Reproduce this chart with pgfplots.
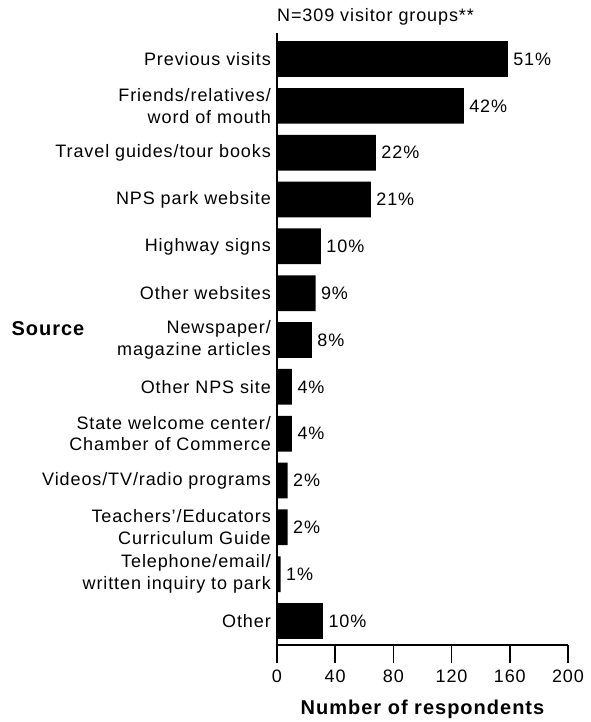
\documentclass[border=0pt]{standalone}
\usepackage{pgfplots}
\pgfplotsset{compat=1.18}
\usepackage{pgfplotstable}
\usepackage{fontspec}
\setmainfont{Liberation Sans}[LetterSpace=5]
\newcommand\mainsz{\fontsize{18}{21.7}\selectfont}
\newcommand\boldsz{\fontsize{20}{23}\selectfont\bfseries}

\pgfplotstableread{
idx val pct
0 158.6 51
1 128.4 42
2 68 22
3 64.5 21
4 30.2 10
5 26.5 9
6 24 8
7 10.3 4
8 10.3 4
9 7.3 2
10 7.3 2
11 2.5 1
12 31.6 10
}\data

\begin{document}
\begin{tikzpicture}
\path[use as bounding box] (-277pt,-77pt) rectangle (313pt,645pt);
\begin{axis}[
  scale only axis,
  width=291pt, height=612pt,
  xbar, bar width=0.763,
  xmin=0, xmax=200,
  ymin=-0.556, ymax=12.513,
  y dir=reverse,
  axis x line=bottom, axis y line=left,
  axis line style={-, line width=1.5pt},
  xtick={0,40,80,120,160,200},
  ytick={0,...,12},
  yticklabels={
    Previous visits,
    {Friends/relatives/\\word of mouth},
    Travel guides/tour books,
    NPS park website,
    Highway signs,
    Other websites,
    {Newspaper/\\magazine articles},
    Other NPS site,
    {State welcome center/\\Chamber of Commerce},
    Videos/TV/radio programs,
    {Teachers'/Educators\\Curriculum Guide},
    {Telephone/email/\\written inquiry to park},
    Other},
  yticklabel style={align=right, font=\mainsz, inner xsep=6pt},
  xticklabel style={font=\mainsz, yshift=-3pt},
  /pgf/number format/assume math mode=true,
  y tick style={draw=none},
  x tick style={line width=1.5pt, black},
  xtick align=outside, ytick align=inside,
  major tick length=18pt,
  xlabel={Number of respondents},
  xlabel style={font=\boldsz, at={(axis description cs:0.5,0)}, anchor=base, yshift=-69pt},
  title={N=309 visitor groups**},
  title style={font=\mainsz, at={(axis description cs:0,1)}, anchor=base west, yshift=5pt, inner sep=0pt},
  nodes near coords={\pgfmathprintnumber{\pgfplotspointmeta}\%},
  point meta=explicit,
  nodes near coords style={font=\mainsz, anchor=west, xshift=2pt, black},
  clip=false,
]
\addplot[fill=black, draw=none] table[x=val, y=idx, meta=pct] {\data};
\node[font=\boldsz, anchor=west] at (axis description cs:0,0.5) [xshift=-269pt, yshift=10pt] {Source};
\end{axis}
\end{tikzpicture}
\end{document}
